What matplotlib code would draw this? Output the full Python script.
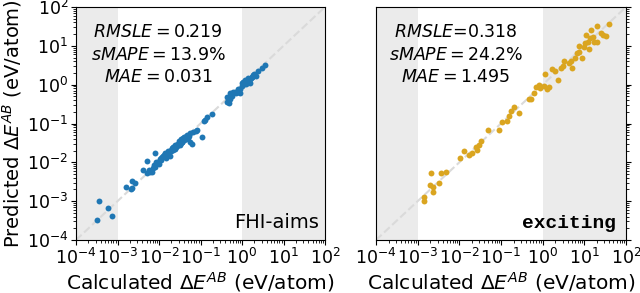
import matplotlib.pyplot as plt
import matplotlib.ticker as mticker
import numpy as np

# log10 of calculated / predicted dE^AB (eV/atom)
aims_calc = [-3.50, -3.45, -3.22, -3.13, -2.80, -2.66, -2.58, -2.68, -2.64,
             -2.39, -2.28, -2.09, -2.28, -2.22, -2.14, -2.02, -1.94, -1.86,
             -1.78, -1.69, -1.61, -1.53, -1.45, -1.37, -1.29, -1.25, -1.73,
             -1.70, -1.80, -1.95, -2.05, -2.10, -1.90, -1.60, -1.55, -1.50,
             -1.65, -1.75, -1.85, -1.40, -1.42, -1.33, -1.48, -1.58, -1.62,
             -2.18, -2.00, -1.82, -1.67, -1.52, -1.35, -1.20, -1.17, -1.09,
             -0.96, -0.92, -0.89, -0.84, -0.73, -0.35, -0.37, -0.29, -0.21,
             -0.13, -0.06, -0.31, -0.25, -0.18, -0.10, -0.01, 0.07, 0.15,
             0.23, 0.19, 0.27, 0.39, 0.47, 0.55, 0.10, 0.05, 0.12, 0.20,
             0.00, 0.03, 0.17, 0.25, 0.30, -0.05, -1.12, -1.25, -1.44, -1.72,
             -1.88, -1.97, -2.12, -1.57, -1.46, -1.31, -2.25, -2.07, -1.92,
             -1.76, -1.63, -1.51, -1.39, -1.27, -1.44, -1.66, -1.84, -0.15,
             0.09, 0.21, 0.14, 0.33, -0.28]
aims_pred = [-3.48, -2.99, -3.18, -3.38, -2.63, -2.48, -2.52, -2.69, -2.66,
             -2.20, -1.96, -1.77, -2.28, -2.24, -2.15, -1.98, -1.89, -1.77,
             -1.72, -1.64, -1.55, -1.51, -1.47, -1.34, -1.38, -1.47, -1.84,
             -1.70, -1.78, -1.95, -2.02, -2.13, -1.84, -1.60, -1.52, -1.56,
             -1.62, -1.73, -1.80, -1.43, -1.38, -1.30, -1.50, -1.55, -1.66,
             -2.26, -2.05, -1.86, -1.68, -1.45, -1.40, -1.53, -1.21, -1.16,
             -1.35, -0.93, -0.91, -0.82, -0.75, -0.44, -0.31, -0.22, -0.18,
             -0.18, -0.22, -0.46, -0.28, -0.20, -0.12, 0.04, 0.12, 0.17,
             0.21, 0.04, 0.25, 0.36, 0.42, 0.51, 0.08, 0.02, 0.10, 0.14,
             -0.04, 0.06, 0.12, 0.19, 0.28, -0.10, -1.20, -1.25, -1.40, -1.68,
             -1.82, -1.92, -2.08, -1.58, -1.41, -1.33, -2.20, -2.00, -1.87,
             -1.74, -1.60, -1.49, -1.36, -1.31, -1.48, -1.61, -1.88, -0.22,
             0.02, 0.16, 0.07, 0.22, -0.36]

exc_calc = [-2.86, -2.84, -2.68, -2.70, -2.62, -2.64, -2.50, -2.45, -2.32,
            -1.98, -1.89, -1.76, -1.70, -1.60, -1.58, -1.52, -1.48, -1.32,
            -1.05, -0.98, -0.86, -0.80, -0.76, -0.70, -0.58, -0.33, -0.28,
            -0.22, -0.16, -0.10, -0.06, 0.02, 0.06, 0.10, 0.14, 0.22, 0.30,
            0.36, 0.44, 0.48, 0.51, 0.64, 0.67, 0.70, 0.78, 0.83, 0.88, 0.94,
            0.88, 0.98, 1.02, 1.04, 1.08, 1.14, 1.20, 1.23, 1.31, 1.30, 1.40,
            1.44, 1.52, 1.59, 1.15, 1.10]
exc_pred = [-2.88, -2.99, -2.28, -2.58, -2.63, -2.76, -2.54, -2.28, -2.24,
            -1.90, -1.72, -1.81, -1.75, -1.60, -1.68, -1.55, -1.45, -1.16,
            -1.16, -0.95, -0.93, -0.80, -0.68, -0.58, -0.72, -0.37, -0.37,
            -0.22, -0.06, -0.01, -0.09, -0.03, 0.28, -0.11, -0.06, 0.40, 0.36,
            0.12, 0.42, 0.47, 0.60, 0.57, 0.62, 0.42, 0.68, 0.81, 0.85, 0.68,
            1.00, 0.98, 1.07, 1.28, 1.11, 1.20, 1.23, 1.09, 1.11, 1.50, 1.33,
            1.28, 1.26, 1.56, 1.41, 0.92]

panels = [
    (aims_calc, aims_pred, '#1f77b4', '$RMSLE = 0.219$\n$sMAPE = 13.9\\%$\n$MAE = 0.031$', 0.33),
    (exc_calc, exc_pred, '#daa520', '$RMSLE$=0.318\n$sMAPE = 24.2\\%$\n$MAE = 1.495$', 0.32),
]

fig = plt.figure(figsize=(6.4, 2.93), dpi=100)
ax1 = fig.add_axes([76/640, 53/293, 249/640, 233/293])
ax2 = fig.add_axes([376/640, 53/293, 250/640, 233/293])

ticks = 10.0 ** np.arange(-4, 3)
for ax, (xc, yp, col, stats, tx) in zip([ax1, ax2], panels):
    ax.axvspan(1e-4, 1e-3, color='#ebebeb', lw=0, zorder=0)
    ax.axvspan(1e0, 1e2, color='#ebebeb', lw=0, zorder=0)
    ax.plot([1e-4, 1e2], [1e-4, 1e2], '--', color='#dadada', lw=1.5, zorder=1)
    ax.scatter(10.0 ** np.array(xc), 10.0 ** np.array(yp), s=18, color=col, zorder=2, lw=0)
    ax.set_xscale('log')
    ax.set_yscale('log')
    ax.set_xlim(1e-4, 1e2)
    ax.set_ylim(1e-4, 1e2)
    ax.set_xticks(ticks)
    ax.set_yticks(ticks)
    for axis in (ax.xaxis, ax.yaxis):
        axis.set_minor_locator(mticker.LogLocator(base=10, subs=np.arange(2, 10), numticks=100))
        axis.set_minor_formatter(mticker.NullFormatter())
    ax.tick_params(labelsize=12.5, pad=2)
    ax.set_xlabel('Calculated $\\Delta E^{AB}$ (eV/atom)', fontsize=14.5, labelpad=2)
    ax.text(tx, 0.93, stats, transform=ax.transAxes, ha='center', va='top',
            multialignment='center', fontsize=12.5, linespacing=1.3)

ax1.text(0.975, 0.035, 'FHI-aims', transform=ax1.transAxes, ha='right', va='bottom', fontsize=14)
ax2.text(0.96, 0.035, 'exciting', transform=ax2.transAxes, ha='right', va='bottom',
         fontsize=14, family='Liberation Mono', weight='bold')
ax1.set_ylabel('Predicted $\\Delta E^{AB}$ (eV/atom)', fontsize=14, labelpad=2)

ax2.yaxis.tick_right()
ax2.tick_params(axis='y', which='both', labelright=False)

fig.savefig('out.png', dpi=100)
